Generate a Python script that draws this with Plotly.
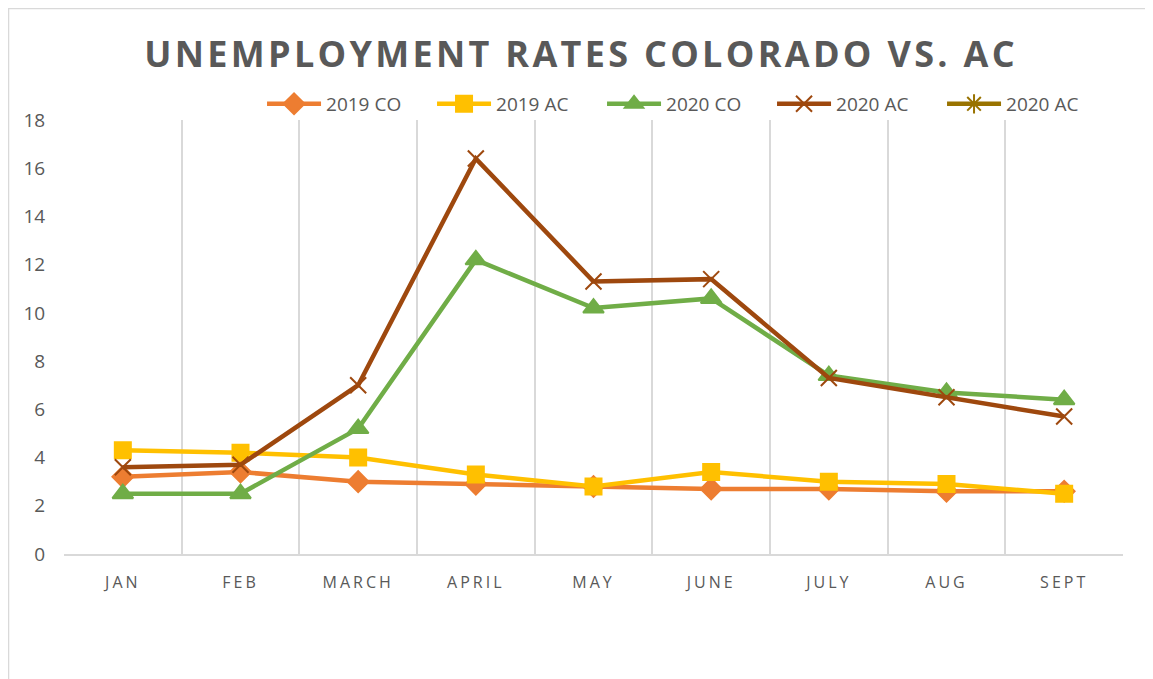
import plotly.graph_objects as go

months = ["JAN", "FEB", "MARCH", "APRIL", "MAY", "JUNE", "JULY", "AUG", "SEPT"]
co_2019 = [3.2, 3.4, 3.0, 2.9, 2.8, 2.7, 2.7, 2.6, 2.6]
ac_2019 = [4.3, 4.2, 4.0, 3.3, 2.8, 3.4, 3.0, 2.9, 2.5]
co_2020 = [2.5, 2.5, 5.2, 12.2, 10.2, 10.6, 7.4, 6.7, 6.4]
ac_2020 = [3.6, 3.7, 7.0, 16.4, 11.3, 11.4, 7.3, 6.5, 5.7]
ac_2020_b = [None] * 9

series = [
    ("2019 CO", co_2019, "#ED7D31", "diamond", 16),
    ("2019 AC", ac_2019, "#FFC000", "square", 16),
    ("2020 CO", co_2020, "#70AD47", "triangle-up", 18),
    ("2020 AC", ac_2020, "#9E480E", "x-thin-open", 16),
    ("2020 AC", ac_2020_b, "#997300", "asterisk-open", 16),
]

fig = go.Figure()
for name, vals, color, sym, size in series:
    fig.add_trace(go.Scatter(
        x=months, y=vals, name=name, mode="lines+markers",
        line=dict(color=color, width=4.5),
        marker=dict(symbol=sym, size=size, color=color,
                    line=dict(color=color, width=2)),
    ))

grey = "#595959"
title_text = "UNEMPLOYMENT RATES COLORADO VS. AC"
fig.update_layout(
    width=1153, height=679,
    margin=dict(l=56, r=38, t=112, b=133),
    paper_bgcolor="white", plot_bgcolor="white",
    title=dict(text="<b><span style='letter-spacing:3.3px'>" + title_text + "</span></b>",
               x=0.497, xanchor="center", y=0.931, yanchor="middle",
               font=dict(family="Open Sans", size=36, color=grey)),
    legend=dict(orientation="h", x=0.187, xanchor="left", y=1.037, yanchor="middle",
                font=dict(family="Open Sans", size=19, color=grey),
                itemwidth=54, entrywidth=101, bgcolor="rgba(0,0,0,0)"),
    showlegend=True,
    font=dict(family="Open Sans", color=grey),
)
fig.update_xaxes(type="category", tickson="boundaries", showgrid=True,
                 gridcolor="#D9D9D9", gridwidth=2,
                 ticks="", ticklabelstandoff=13,
                 tickmode="array", tickvals=months,
                 ticktext=["<span style='letter-spacing:3px'>" + m + "</span>" for m in months],
                 showline=True, linecolor="#D9D9D9", linewidth=2,
                 tickfont=dict(family="Open Sans", size=16, color=grey),
                 range=[-0.5, 8.5], zeroline=False)
fig.update_yaxes(range=[0, 18], dtick=2, showgrid=False, zeroline=False,
                 showline=False, ticks="outside", ticklen=14,
                 tickcolor="rgba(0,0,0,0)",
                 tickfont=dict(family="Open Sans", size=19, color=grey))

fig.add_shape(type="rect", xref="paper", yref="paper",
              x0=-0.0524, x1=1.0274, y0=-0.4, y1=1.257,
              line=dict(color="#D9D9D9", width=1.5), fillcolor="rgba(0,0,0,0)",
              layer="below")

fig.write_html("out.html")
